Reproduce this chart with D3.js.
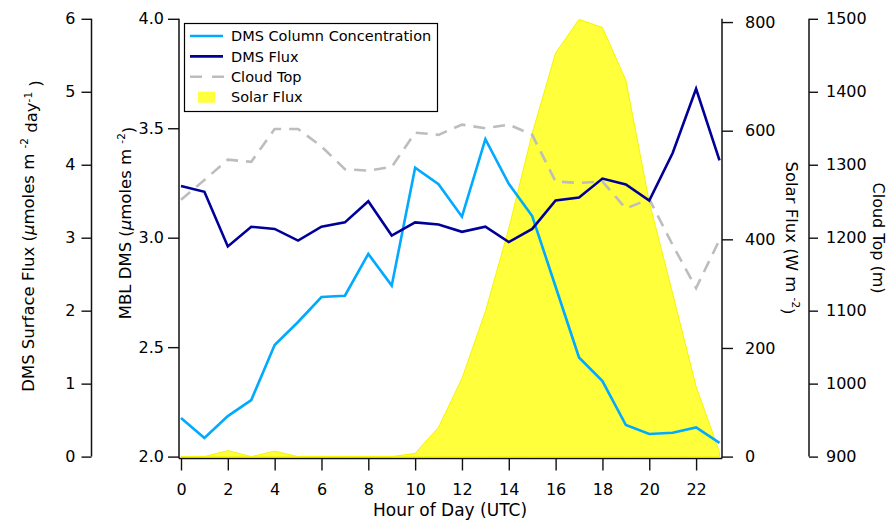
<!DOCTYPE html>
<html>
<head>
<meta charset="utf-8">
<script src="https://cdn.jsdelivr.net/npm/d3@7"></script>
<style>
  body { margin: 0; background: #fff; }
  svg { font-family: "DejaVu Sans", sans-serif; }
</style>
</head>
<body>
<svg id="chart" width="889" height="520"></svg>
<script>
// Hourly diurnal composite
const hours = [0, 1, 2, 3, 4, 5, 6, 7, 8, 9, 10, 11, 12, 13, 14, 15, 16, 17, 18, 19, 20, 21, 22, 23];

// MBL DMS column concentration (µmoles m-2)
const columnConc = [2.176, 2.085, 2.185, 2.258, 2.510, 2.615, 2.729, 2.735, 2.926, 2.781, 3.320, 3.244,
                    3.096, 3.450, 3.246, 3.099, 2.776, 2.453, 2.345, 2.144, 2.103, 2.109, 2.133, 2.063];

// DMS surface flux (µmoles m-2 day-1)
const dmsFlux = [3.71, 3.63, 2.88, 3.15, 3.12, 2.96, 3.15, 3.21, 3.50, 3.03, 3.21, 3.18,
                 3.08, 3.15, 2.94, 3.12, 3.51, 3.55, 3.81, 3.73, 3.51, 4.16, 5.04, 4.06];

// Cloud top height (m)
const cloudTop = [1252, 1279, 1307, 1304, 1349, 1349, 1325, 1294, 1292, 1297, 1344, 1341,
                  1355, 1350, 1355, 1341, 1277, 1275, 1277, 1240, 1253, 1190, 1131, 1197];

// Downwelling solar flux (W m-2)
const solarFlux = [0, 0, 11, 0, 10, 0, 0, 0, 0, 0, 6, 54,
                   144, 267, 420, 595, 743, 805, 790, 693, 469, 300, 129, 8];

// Tick values
const hourTicks = [0, 2, 4, 6, 8, 10, 12, 14, 16, 18, 20, 22];
const fluxTicks = [0, 1, 2, 3, 4, 5, 6];
const concTicks = [2.0, 2.5, 3.0, 3.5, 4.0];
const solarTicks = [0, 200, 400, 600, 800];
const cloudTicks = [900, 1000, 1100, 1200, 1300, 1400, 1500];

const svg = d3.select("#chart");

// frame geometry
const plotLeft = 179, plotRight = 722, plotBottom = 458.5;
const yTop = 18.8, yBot = 456.6;

const x = d3.scaleLinear().domain([0, 23]).range([181, 719.5]);
const yConc = d3.scaleLinear().domain([2, 4]).range([yBot, yTop]);
const yFlux = d3.scaleLinear().domain([0, 6]).range([yBot, yTop]);
const ySolar = d3.scaleLinear().domain([0, 806]).range([yBot, yTop]);
const yCloud = d3.scaleLinear().domain([900, 1500]).range([yBot, yTop]);

// ---- marks ----
const solarArea = d3.area()
  .x((d, i) => x(hours[i]))
  .y0(ySolar(0))
  .y1(d => ySolar(d));

svg.append("path")
  .datum(solarFlux)
  .attr("d", solarArea)
  .attr("fill", "#ffff3c")
  .attr("stroke", "#f5f500")
  .attr("stroke-width", 1);

const lineOf = (scale) => d3.line().x((d, i) => x(hours[i])).y(d => scale(d));

svg.append("path")
  .datum(cloudTop)
  .attr("d", lineOf(yCloud))
  .attr("fill", "none")
  .attr("stroke", "#bdbdbd")
  .attr("stroke-width", 2.6)
  .attr("stroke-dasharray", "12,8");

svg.append("path")
  .datum(columnConc)
  .attr("d", lineOf(yConc))
  .attr("fill", "none")
  .attr("stroke", "#00aaff")
  .attr("stroke-width", 2.6)
  .attr("stroke-linejoin", "miter");

svg.append("path")
  .datum(dmsFlux)
  .attr("d", lineOf(yFlux))
  .attr("fill", "none")
  .attr("stroke", "#000099")
  .attr("stroke-width", 2.6)
  .attr("stroke-linejoin", "miter");

// ---- axes ----
const axisColor = "#111";
function styleAxis(g, fontSize) {
  g.select(".domain").remove();
  g.selectAll(".tick line").attr("stroke", axisColor).attr("stroke-width", 1.4);
  g.selectAll(".tick text").attr("fill", "#000").style("font-size", fontSize + "px")
    .style("font-family", '"DejaVu Sans", sans-serif');
}
function vline(xp, y1, y2) {
  svg.append("line").attr("x1", xp).attr("x2", xp).attr("y1", y1).attr("y2", y2)
    .attr("stroke", axisColor).attr("stroke-width", 1.5);
}

// bottom axis
const gx = svg.append("g").attr("transform", `translate(0,${plotBottom})`)
  .call(d3.axisBottom(x).tickValues(hourTicks).tickSize(12).tickPadding(13).tickFormat(d3.format("d")));
styleAxis(gx, 16);
svg.append("line").attr("x1", plotLeft).attr("x2", plotRight).attr("y1", plotBottom).attr("y2", plotBottom)
  .attr("stroke", axisColor).attr("stroke-width", 1.5);

// far-left: DMS surface flux
const gFlux = svg.append("g").attr("transform", "translate(91.5,0)")
  .call(d3.axisLeft(yFlux).tickValues(fluxTicks).tickSize(10).tickPadding(6).tickFormat(d3.format("d")));
styleAxis(gFlux, 16);
vline(91.5, yTop, yBot);

// inner-left: MBL DMS
const gConc = svg.append("g").attr("transform", `translate(${plotLeft},0)`)
  .call(d3.axisLeft(yConc).tickValues(concTicks).tickSize(11).tickPadding(4).tickFormat(d3.format(".1f")));
styleAxis(gConc, 16);
vline(plotLeft, yTop, plotBottom);

// inner-right: solar flux
const gSolar = svg.append("g").attr("transform", `translate(${plotRight},0)`)
  .call(d3.axisRight(ySolar).tickValues(solarTicks).tickSize(11).tickPadding(12).tickFormat(d3.format("d")));
styleAxis(gSolar, 16);
vline(plotRight, yTop, plotBottom);

// far-right: cloud top
const gCloud = svg.append("g").attr("transform", "translate(809,0)")
  .call(d3.axisRight(yCloud).tickValues(cloudTicks).tickSize(9).tickPadding(8).tickFormat(d3.format("d")));
styleAxis(gCloud, 16);
vline(809, yTop, yBot);

// ---- axis titles ----
const titleSize = 16.5;

svg.append("text")
  .attr("x", 450).attr("y", 516)
  .attr("text-anchor", "middle")
  .style("font-size", "17px")
  .text("Hour of Day (UTC)");

// DMS Surface Flux
{
  const t = svg.append("text")
    .attr("transform", "translate(34,236) rotate(-90)")
    .attr("text-anchor", "middle")
    .style("font-size", titleSize + "px");
  t.append("tspan").text("DMS Surface Flux (");
  t.append("tspan").style("font-style", "italic").text("\u03bc");
  t.append("tspan").text("moles m ");
  t.append("tspan").attr("dy", "-0.55em").style("font-size", "10.5px").text("-2");
  t.append("tspan").attr("dy", "0.55em").text(" day");
  t.append("tspan").attr("dy", "-0.55em").style("font-size", "10.5px").text("-1");
  t.append("tspan").attr("dy", "0.55em").text(" )");
}

// MBL DMS
{
  const t = svg.append("text")
    .attr("transform", "translate(131,223) rotate(-90)")
    .attr("text-anchor", "middle")
    .style("font-size", titleSize + "px");
  t.append("tspan").text("MBL DMS (");
  t.append("tspan").style("font-style", "italic").text("\u03bc");
  t.append("tspan").text("moles m ");
  t.append("tspan").attr("dy", "-0.55em").style("font-size", "10.5px").text("-2");
  t.append("tspan").attr("dy", "0.55em").text(")");
}

// Solar Flux
{
  const t = svg.append("text")
    .attr("transform", "translate(786,238) rotate(90)")
    .attr("text-anchor", "middle")
    .style("font-size", titleSize + "px");
  t.append("tspan").text("Solar Flux (W m ");
  t.append("tspan").attr("dy", "-0.55em").style("font-size", "10.5px").text("-2");
  t.append("tspan").attr("dy", "0.55em").text(")");
}

// Cloud Top
svg.append("text")
  .attr("transform", "translate(873,238) rotate(90)")
  .attr("text-anchor", "middle")
  .style("font-size", "16px")
  .text("Cloud Top (m)");

// ---- legend ----
const legendItems = [
  { label: "DMS Column Concentration", kind: "line", color: "#00aaff" },
  { label: "DMS Flux", kind: "line", color: "#000099" },
  { label: "Cloud Top", kind: "dash", color: "#bdbdbd" },
  { label: "Solar Flux", kind: "fill", color: "#ffff3c" }
];
const lg = svg.append("g");
lg.append("rect").attr("x", 184.5).attr("y", 23.5).attr("width", 253).attr("height", 88)
  .attr("fill", "#fff").attr("stroke", "#000").attr("stroke-width", 1.2);
legendItems.forEach((d, i) => {
  const cy = 36 + i * 20.4;
  if (d.kind === "line") {
    lg.append("line").attr("x1", 190).attr("x2", 223).attr("y1", cy).attr("y2", cy)
      .attr("stroke", d.color).attr("stroke-width", 2.6);
  } else if (d.kind === "dash") {
    lg.append("line").attr("x1", 190).attr("x2", 224).attr("y1", cy).attr("y2", cy)
      .attr("stroke", d.color).attr("stroke-width", 2.6).attr("stroke-dasharray", "12,10");
  } else {
    lg.append("rect").attr("x", 198).attr("y", cy - 5.5).attr("width", 17).attr("height", 11)
      .attr("fill", d.color);
  }
  lg.append("text").attr("x", 231).attr("y", cy).attr("dy", "0.36em")
    .style("font-size", "14.5px").text(d.label);
});
</script>
</body>
</html>
